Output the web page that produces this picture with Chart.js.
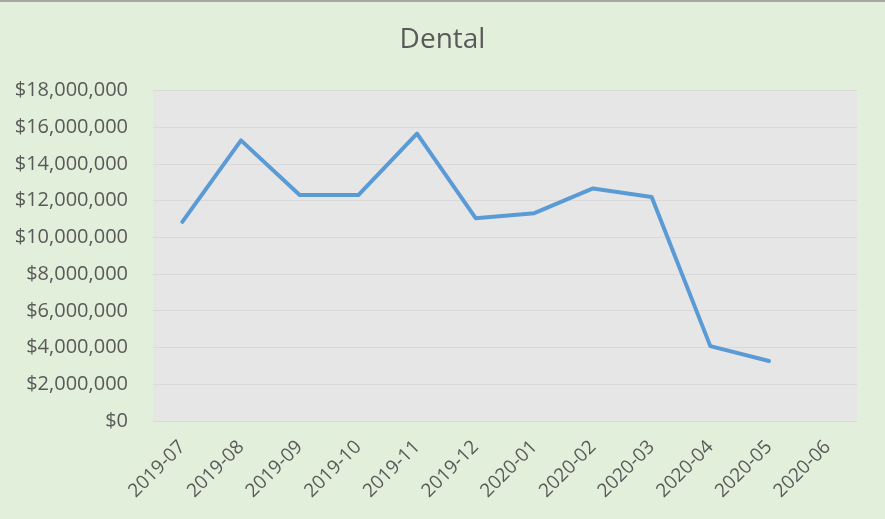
<!DOCTYPE html>
<html>
<head>
<meta charset="utf-8">
<title>Dental</title>
<script src="https://cdn.jsdelivr.net/npm/chart.js@4/dist/chart.umd.min.js"></script>
<style>
    html, body { margin: 0; padding: 0; background: #E2EFDA; }
    #wrap { width: 885px; height: 519px; position: relative; }
</style>
</head>
<body>
<div id="wrap"><canvas id="dental"></canvas></div>
<script>
    // monthly dental spend
    const categories = ['2019-07', '2019-08', '2019-09', '2019-10', '2019-11', '2019-12',
                        '2020-01', '2020-02', '2020-03', '2020-04', '2020-05', '2020-06'];
    const dentalValues = [10850000, 15290000, 12310000, 12310000, 15660000, 11050000,
                          11320000, 12670000, 12200000, 4080000, 3270000, null];
    const yMin = 0;
    const yMax = 18000000;
    const yStep = 2000000;

    const textColor = '#595959';
    const fontFamily = '"Open Sans", "Noto Sans", sans-serif';

    // paints the page background, the thin top border and the grey plot area
    const backdrop = {
        id: 'backdrop',
        beforeDraw(chart) {
            const { ctx, chartArea: a, width } = chart;
            ctx.save();
            ctx.fillStyle = '#E2EFDA';
            ctx.fillRect(0, 0, width, chart.height);
            ctx.fillStyle = '#A6A6A6';
            ctx.fillRect(0, 0, width, 2);
            ctx.fillStyle = '#E7E6E6';
            ctx.fillRect(a.left, a.top, a.right - a.left, a.bottom - a.top);
            ctx.restore();
        }
    };

    new Chart(document.getElementById('dental'), {
        type: 'line',
        data: {
            labels: categories,
            datasets: [{
                label: 'Dental',
                data: dentalValues,
                borderColor: '#5B9BD5',
                borderWidth: 4,
                borderJoinStyle: 'round',
                borderCapStyle: 'round',
                pointRadius: 0,
                tension: 0,
                fill: false
            }]
        },
        options: {
            responsive: true,
            maintainAspectRatio: false,
            animation: false,
            // symmetric padding keeps the title centred on the whole canvas
            layout: { padding: { left: 14, right: 14, top: 0, bottom: 0 } },
            plugins: {
                legend: { display: false },
                tooltip: { enabled: false },
                title: {
                    display: true,
                    text: 'Dental',
                    color: textColor,
                    font: { family: fontFamily, size: 28, weight: 'normal' },
                    padding: { top: 23, bottom: 34 }
                }
            },
            scales: {
                x: {
                    offset: true,
                    grid: { display: false },
                    border: { display: false },
                    ticks: {
                        color: textColor,
                        font: { family: fontFamily, size: 19 },
                        minRotation: 45,
                        maxRotation: 45,
                        padding: 7
                    },
                    afterFit(scale) { scale.height = 98; }
                },
                y: {
                    min: yMin,
                    max: yMax,
                    grid: { color: '#D9D9D9', lineWidth: 1, drawTicks: false },
                    border: { display: false },
                    ticks: {
                        stepSize: yStep,
                        color: textColor,
                        font: { family: fontFamily, size: 20 },
                        padding: 25,
                        callback: v => '$' + Number(v).toLocaleString('en-US')
                    },
                    afterFit(scale) { scale.width = 139; }
                },
                // empty spacer on the right so the plot ends where the reference does
                spacer: {
                    type: 'linear',
                    position: 'right',
                    display: true,
                    grid: { display: false },
                    border: { display: false },
                    ticks: { display: false },
                    afterFit(scale) { scale.width = 14; }
                }
            }
        },
        plugins: [backdrop]
    });
</script>
</body>
</html>
